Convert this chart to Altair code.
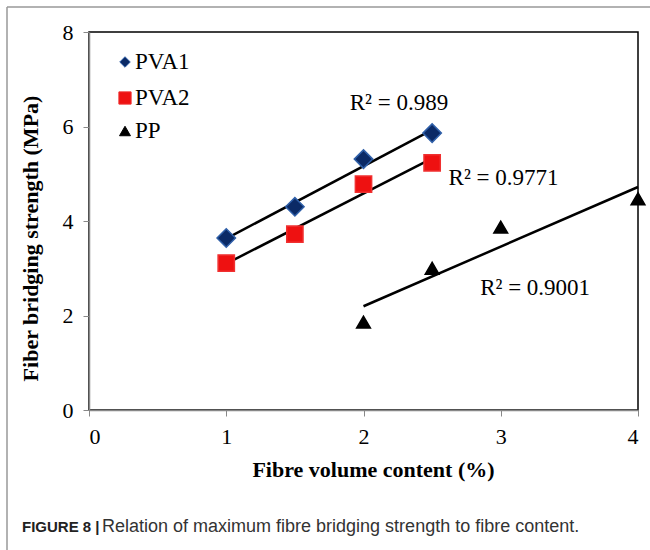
import altair as alt
import pandas as pd

series_names = ["PVA1", "PVA2", "PP"]
pva1_x = [1.0, 1.5, 2.0, 2.5]
pva1_y = [3.64, 4.30, 5.31, 5.86]
pva2_x = [1.0, 1.5, 2.0, 2.5]
pva2_y = [3.11, 3.72, 4.78, 5.23]
pp_x = [2.0, 2.5, 3.0, 4.0]
pp_y = [1.86, 3.00, 3.87, 4.47]

r2_labels = ["R² = 0.989", "R² = 0.9771", "R² = 0.9001"]
r2_x = [1.90, 2.62, 2.85]
r2_y = [6.50, 4.91, 2.58]

caption_bold = "FIGURE 8 |"
caption_text = "Relation of maximum fibre bridging strength to fibre content."

rows = []
for name, xs, ys in [("PVA1", pva1_x, pva1_y), ("PVA2", pva2_x, pva2_y), ("PP", pp_x, pp_y)]:
    for xv, yv in zip(xs, ys):
        rows.append({"series": name, "x": xv, "y": yv})
df = pd.DataFrame(rows)
ann = pd.DataFrame({"label": r2_labels, "x": r2_x, "y": r2_y})

SERIF = "Liberation Serif"
W, H = 549, 378

shapes = ["diamond", "square", "triangle-up"]
fills = ["#0b2a66", "#ee1111", "#000000"]
strokes = ["#2f5fa8", "#f03030", "#000000"]

xscale = alt.Scale(domain=[0, 4], nice=False, zero=False)
yscale = alt.Scale(domain=[0, 8], nice=False)

base = alt.Chart(df)

lines = base.transform_regression("x", "y", groupby=["series"]).mark_line(
    color="black", strokeWidth=2.5
).encode(
    x=alt.X("x:Q", scale=xscale),
    y=alt.Y("y:Q", scale=yscale),
    detail="series:N",
)

points = base.mark_point(filled=True, opacity=1, strokeWidth=1.5).encode(
    x=alt.X("x:Q", scale=xscale, title="Fibre volume content (%)",
            axis=alt.Axis(values=[0, 1, 2, 3, 4], format="d", titleX=284)),
    y=alt.Y("y:Q", scale=yscale, title="Fiber bridging strength (MPa)",
            axis=alt.Axis(values=[0, 2, 4, 6, 8], format="d", titleY=206)),
    shape=alt.Shape("series:N", scale=alt.Scale(domain=series_names, range=shapes), legend=None),
    fill=alt.Fill("series:N", scale=alt.Scale(domain=series_names, range=fills), legend=None),
    stroke=alt.Stroke("series:N", scale=alt.Scale(domain=series_names, range=strokes), legend=None),
    size=alt.Size("series:N", scale=alt.Scale(domain=series_names, range=[340, 190, 160]), legend=None),
)

texts = alt.Chart(ann).mark_text(align="left", baseline="middle", font=SERIF,
                                  fontSize=23, color="black").encode(
    x=alt.X("x:Q", scale=xscale), y=alt.Y("y:Q", scale=yscale), text="label:N")

# manual legend
legend_layers = []
leg_y = [30, 66, 99]
leg_sizes = [110, 150, 120]
for name, shp, fc, sc, ly, sz in zip(series_names, shapes, fills, strokes, leg_y, leg_sizes):
    ldf = pd.DataFrame({"series": [name]})
    legend_layers.append(
        alt.Chart(ldf).mark_point(filled=True, opacity=1, shape=shp, fill=fc, stroke=sc,
                                  strokeWidth=1, size=sz).encode(
            x=alt.value(36), y=alt.value(ly)))
    legend_layers.append(
        alt.Chart(ldf).mark_text(align="left", baseline="middle", font=SERIF, fontSize=23,
                                 color="black").encode(
            x=alt.value(46), y=alt.value(ly), text="series:N"))

frame_left = alt.Chart(pd.DataFrame({"a": [0]})).mark_rule(color="#999999", strokeWidth=1.5).encode(
    x=alt.value(-82), y=alt.value(-25), y2=alt.value(520))
frame_top = alt.Chart(pd.DataFrame({"a": [0]})).mark_rule(color="#999999", strokeWidth=1.5).encode(
    x=alt.value(-82), x2=alt.value(565), y=alt.value(-25))

cap1 = alt.Chart(pd.DataFrame({"t": [caption_bold]})).mark_text(
    align="left", baseline="middle", font="Liberation Sans", fontSize=15, fontWeight="bold",
    color="#222222").encode(x=alt.value(-67), y=alt.value(495), text="t:N")
cap2 = alt.Chart(pd.DataFrame({"t": [caption_text]})).mark_text(
    align="left", baseline="middle", font="Liberation Sans", fontSize=18,
    color="#333333").encode(x=alt.value(13), y=alt.value(495), text="t:N")

chart = alt.layer(lines, points, texts, *legend_layers, frame_left, frame_top, cap1, cap2).properties(
    width=W, height=H,
    autosize=alt.AutoSizeParams(type="none"),
    padding={"left": 89, "top": 32, "right": 12, "bottom": 140},
    background="white",
).configure_view(stroke="black", strokeWidth=1.5).configure_axis(
    grid=False, domainColor="#888888", domainWidth=1.5, tickColor="#888888",
    tickSize=6, labelFont=SERIF, labelFontSize=22, labelColor="black",
    titleFont=SERIF, titleFontSize=22, titleFontWeight="bold", titleColor="black",
).configure_axisX(labelPadding=10, titlePadding=12).configure_axisY(
    labelPadding=10, titlePadding=20)

chart.save("out.html", embed_options={"renderer": "svg", "actions": False})
